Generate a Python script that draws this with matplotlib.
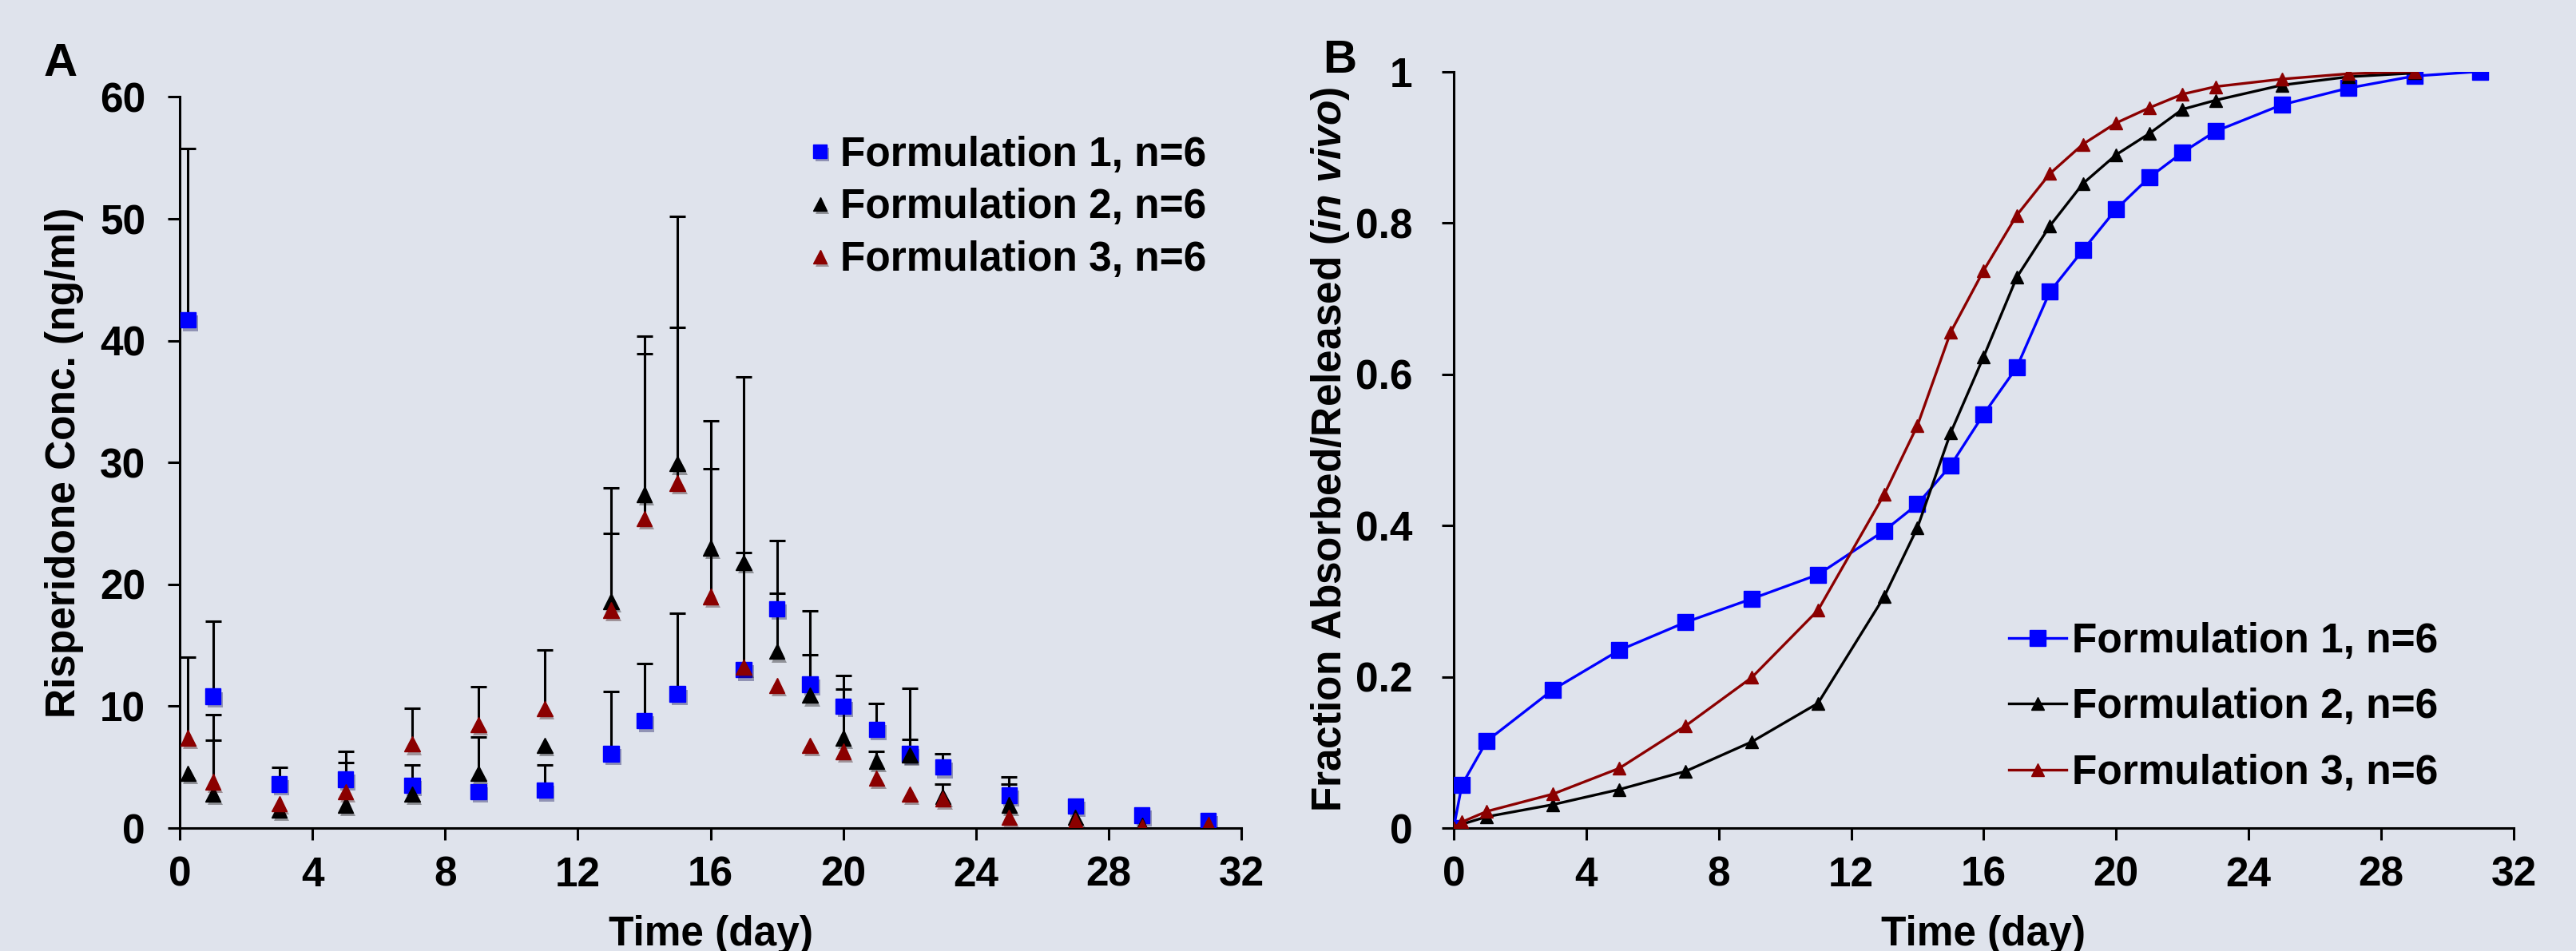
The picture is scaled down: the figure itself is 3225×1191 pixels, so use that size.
import matplotlib
matplotlib.use("Agg")
import matplotlib.pyplot as plt
import matplotlib.patheffects as pe
import numpy as np
from matplotlib.ticker import FuncFormatter, MultipleLocator

# panel A: plasma concentration (ng/ml), upper error bar ends (0 = none shown)
days_a = [0.25, 1, 3, 5, 7, 9, 11, 13, 14, 15, 16, 17, 18, 19, 20, 21, 22, 23, 25, 27, 29, 31]
conc_f1 = [41.7, 10.8, 3.6, 4.0, 3.5, 3.0, 3.1, 6.1, 8.8, 11.0, np.nan, 13.0, 18.0, 11.8,
           10.0, 8.1, 6.1, 5.0, 2.7, 1.8, 1.05, 0.6]
upper_f1 = [55.8, 17.0, 5.0, 5.4, 0, 0, 5.2, 11.2, 13.5, 17.6, 0, 0, 19.3, 14.2,
            12.5, 10.2, 7.3, 6.1, 4.2, 0, 0, 0]
conc_f2 = [4.5, 2.8, 1.5, 1.9, 2.8, 4.5, 6.8, 18.6, 27.4, 29.9, 23.0, 21.8, 14.5, 10.9,
           7.4, 5.5, 6.0, 2.6, 1.9, 0.9, 0.2, 0.1]
upper_f2 = [0, 7.2, 0, 0, 5.2, 7.5, 0, 27.9, 40.4, 50.2, 33.4, 37.0, 23.6, 17.8,
            11.4, 6.3, 11.5, 3.6, 3.6, 0, 0, 0]
conc_f3 = [7.4, 3.8, 2.0, 3.0, 6.9, 8.5, 9.8, 17.9, 25.4, 28.3, 19.0, 13.2, 11.7, 6.8,
           6.3, 4.1, 2.8, 2.4, 0.9, 0.6, 0.1, 0.3]
upper_f3 = [14.0, 9.3, 0, 6.3, 9.8, 11.6, 14.6, 24.2, 38.9, 41.1, 29.5, 22.6, 0, 0,
            0, 0, 0, 0, 0, 0, 0, 0]

# panel B: fraction absorbed/released
days_b = [0, 0.25, 1, 3, 5, 7, 9, 11, 13, 14, 15, 16, 17, 18, 19, 20, 21, 22, 23, 25, 27, 29, 31]
frac_f1 = [0, 0.057, 0.115, 0.183, 0.235, 0.272, 0.303, 0.335, 0.393, 0.428, 0.479, 0.547,
           0.609, 0.709, 0.764, 0.818, 0.860, 0.893, 0.921, 0.956, 0.978, 0.994, 1.0]
frac_f2 = [0, 0.005, 0.015, 0.031, 0.051, 0.075, 0.114, 0.165, 0.306, 0.397, 0.522, 0.623,
           0.728, 0.796, 0.852, 0.890, 0.918, 0.950, 0.962, 0.982, 0.993, 0.998, np.nan]
frac_f3 = [0, 0.008, 0.022, 0.045, 0.079, 0.135, 0.199, 0.288, 0.441, 0.532, 0.655, 0.737,
           0.810, 0.865, 0.904, 0.932, 0.952, 0.970, 0.980, 0.990, 0.997, 1.0, np.nan]

labels = ["Formulation 1, n=6", "Formulation 2, n=6", "Formulation 3, n=6"]
colors = ["#0000ff", "#000000", "#8b0000"]
markers = ["s", "^", "^"]

BG = "#dfe3ec"
plt.rcParams["font.family"] = ["Liberation Sans", "DejaVu Sans"]
plt.rcParams["font.weight"] = "bold"
plt.rcParams["mathtext.fontset"] = "custom"
plt.rcParams["mathtext.it"] = "Liberation Sans:italic:bold"
plt.rcParams["mathtext.rm"] = "Liberation Sans:bold"

fig = plt.figure(figsize=(32.25, 11.91), dpi=100, facecolor=BG)
ax_a = fig.add_axes([0.0698, 0.1293, 0.4121, 0.7687])
ax_b = fig.add_axes([0.5643, 0.1293, 0.4115, 0.7955])


def style_axes(ax):
    ax.set_facecolor(BG)
    for side in ["top", "right"]:
        ax.spines[side].set_visible(False)
    for side in ["left", "bottom"]:
        ax.spines[side].set_linewidth(2.2)
    ax.tick_params(direction="out", length=11, width=2.2, labelsize=37)
    ax.tick_params(axis="y", pad=20)
    ax.tick_params(axis="x", pad=14)
    ax.set_xlim(0, 32)
    ax.xaxis.set_major_locator(MultipleLocator(4))
    for lab in ax.get_xticklabels() + ax.get_yticklabels():
        lab.set_fontweight("bold")


shadow = [pe.SimplePatchShadow(offset=(2, -3), alpha=0.35), pe.Normal()]

# panel A
concs = [conc_f1, conc_f2, conc_f3]
uppers = [upper_f1, upper_f2, upper_f3]
for conc, upper in zip(concs, uppers):
    conc = np.array(conc)
    upper = np.array(upper)
    x = np.array(days_a)
    m = upper > 0
    eb = ax_a.errorbar(x[m], conc[m], yerr=[np.zeros(m.sum()), upper[m] - conc[m]],
                       fmt="none", ecolor="black", elinewidth=2.2, capsize=7,
                       capthick=2.2, zorder=2)
    eb[1][0].set_visible(False)
for i, conc in enumerate(concs):
    ax_a.plot(days_a, conc, linestyle="none", marker=markers[i], color=colors[i],
              markersize=14, label=labels[i], zorder=3 + i, path_effects=shadow)

style_axes(ax_a)
ax_a.set_ylim(0, 60)
ax_a.yaxis.set_major_locator(MultipleLocator(10))
ax_a.set_xlabel("Time (day)", fontsize=37, fontweight="bold", labelpad=18)
ax_a.set_ylabel("Risperidone Conc. (ng/ml)", fontsize=37, fontweight="bold")
ax_a.yaxis.set_label_coords(-0.090, 0.5)
ax_a.legend(loc="upper left", bbox_to_anchor=(0.576, 0.97), frameon=False,
            fontsize=37, handlelength=0.6, handletextpad=0.2,
            labelspacing=0.33, borderaxespad=0, markerscale=0.9)

# panel B
fracs = [frac_f1, frac_f2, frac_f3]
msizes = [15, 12, 12]
for i, frac in enumerate(fracs):
    ax_b.plot(days_b, frac, marker=markers[i], color=colors[i], linewidth=2.4,
              markersize=msizes[i], label=labels[i], zorder=3 + i)

style_axes(ax_b)
ax_b.set_ylim(0, 1)
ax_b.yaxis.set_major_locator(MultipleLocator(0.2))
ax_b.yaxis.set_major_formatter(FuncFormatter(lambda v, p: f"{v:g}"))
ax_b.tick_params(axis="y", pad=26)
ax_b.set_xlabel("Time (day)", fontsize=37, fontweight="bold", labelpad=18)
ax_b.set_ylabel(r"Fraction Absorbed/Released ($\mathit{in\ vivo}$)", fontsize=37,
                fontweight="bold")
ax_b.yaxis.set_label_coords(-0.096, 0.5)
ax_b.legend(loc="lower left", bbox_to_anchor=(0.508, 0.025), frameon=False,
            fontsize=37, handlelength=1.4, handletextpad=0.15,
            labelspacing=0.65, borderaxespad=0)

fig.text(55 / 3225, 1 - 95 / 1191, "A", fontsize=42, fontweight="bold")
fig.text(1656 / 3225, 1 - 91 / 1191, "B", fontsize=42, fontweight="bold")

fig.savefig("out.png", dpi=100, facecolor=BG)
